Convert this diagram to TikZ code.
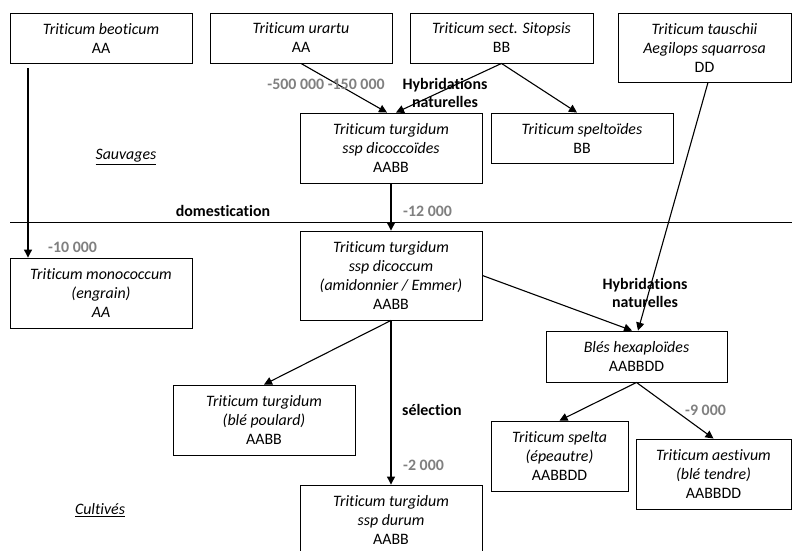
\documentclass[tikz,border=0pt]{standalone}
\usepackage{fontspec}
\setmainfont{Carlito}[Ligatures=NoCommon]
\usetikzlibrary{arrows.meta}
\definecolor{dategray}{RGB}{128,128,128}
\begin{document}
\begin{tikzpicture}[x=1pt,y=-1pt,
  every node/.style={font=\fontsize{15.9}{19}\selectfont},
  sbox/.style={draw, line width=0.9pt, inner sep=0pt, align=center},
  arr/.style={line width=1.1pt, -{Triangle[length=8pt,width=8pt]}},
  lbl/.style={font=\fontsize{15.9}{18}\selectfont\bfseries, align=center, inner sep=0pt},
  datelbl/.style={font=\fontsize{15.9}{18}\selectfont\bfseries, text=dategray, inner sep=0pt},
  zone/.style={font=\fontsize{15.9}{18}\selectfont, inner sep=0pt}]
\clip (0,0) rectangle (792,550);
\fill[white] (0,0) rectangle (792,550);

% boxes
\node[sbox, minimum width=182pt, minimum height=50pt] (beo) at (101,38) {\textit{Triticum beoticum}\\AA};
\node[sbox, minimum width=182pt, minimum height=50pt] (ura) at (301,38) {\textit{Triticum urartu}\\AA};
\node[sbox, minimum width=183pt, minimum height=50pt] (sit) at (501.5,38) {\textit{Triticum sect. Sitopsis}\\BB};
\node[sbox, minimum width=173pt, minimum height=69pt] (tau) at (704.5,47.5) {\textit{Triticum tauschii}\\\textit{Aegilops squarrosa}\\DD};
\node[sbox, minimum width=182pt, minimum height=70pt] (dcs) at (391,148) {\textit{Triticum turgidum}\\\textit{ssp dicoccoïdes}\\AABB};
\node[sbox, minimum width=182pt, minimum height=50pt] (spt) at (582,138) {\textit{Triticum speltoïdes}\\BB};
\node[sbox, minimum width=182pt, minimum height=70pt] (mono) at (101,293) {\textit{Triticum monococcum}\\\textit{(engrain)}\\\textit{AA}};
\node[sbox, minimum width=182pt, minimum height=89pt] (dcm) at (391,275.5) {\textit{Triticum turgidum}\\\textit{ssp dicoccum}\\\textit{(amidonnier / Emmer)}\\AABB};
\node[sbox, minimum width=181pt, minimum height=51pt] (hex) at (636.5,356.5) {\textit{Blés hexaploïdes}\\AABBDD};
\node[sbox, minimum width=182pt, minimum height=70pt] (pou) at (264,420) {\textit{Triticum turgidum}\\\textit{(blé poulard)}\\AABB};
\node[sbox, minimum width=182pt, minimum height=70pt] (dur) at (391,520) {\textit{Triticum turgidum}\\\textit{ssp durum}\\AABB};
\node[sbox, minimum width=137pt, minimum height=70pt] (spa) at (559.5,456) {\textit{Triticum spelta}\\\textit{(épeautre)}\\AABBDD};
\node[sbox, minimum width=155pt, minimum height=70pt] (aes) at (713.5,474) {\textit{Triticum aestivum}\\\textit{(blé tendre)}\\AABBDD};

% separator line
\coordinate (hl1) at (10,222);
\coordinate (hl2) at (792,222);
\draw[line width=0.9pt] (hl1) -- (hl2);

% connectors
\coordinate (b1) at (28,68);
\draw[arr] (b1) -- (b1 |- mono.north);
\draw[arr] (ura.south) -- ([xshift=-4pt]dcs.north);
\draw[arr] (sit.south) -- ([xshift=5pt]dcs.north);
\draw[arr] (sit.south) -- ([xshift=-5pt]spt.north);
\draw[arr] ([xshift=3.5pt]tau.south) -- ([xshift=1.5pt]hex.north);
\draw[arr] (dcm.east) -- ([xshift=-4.5pt]hex.north);
\draw[arr] (dcs.south) -- (dcm.north);
\draw[arr] (dcm.south) -- (dur.north);
\draw[arr] (dcm.south) -- (pou.north);
\draw[arr] (hex.south) -- (spa.north);
\draw[arr] (hex.south) -- (aes.north);

% labels
\node[datelbl] (d1) at (326,84) {-500 000 -150 000};
\node[lbl] (h1) at (445,93) {Hybridations\\naturelles};
\node[zone] (sauv) at (126,157) {\underline{\textit{Sauvages}}};
\node[lbl] (dom) at (223,211) {domestication};
\node[datelbl, anchor=west] (d2) at (403,211) {-12 000};
\node[datelbl, anchor=west] (d3) at (48,247) {-10 000};
\node[lbl] (h2) at (645,293) {Hybridations\\naturelles};
\node[lbl, anchor=west] (sel) at (402,410) {sélection};
\node[datelbl, anchor=west] (d4) at (403,465) {-2 000};
\node[datelbl, anchor=west] (d5) at (685,410) {-9 000};
\node[zone] (cult) at (100,510) {\underline{\textit{Cultivés}}};
\end{tikzpicture}
\end{document}
